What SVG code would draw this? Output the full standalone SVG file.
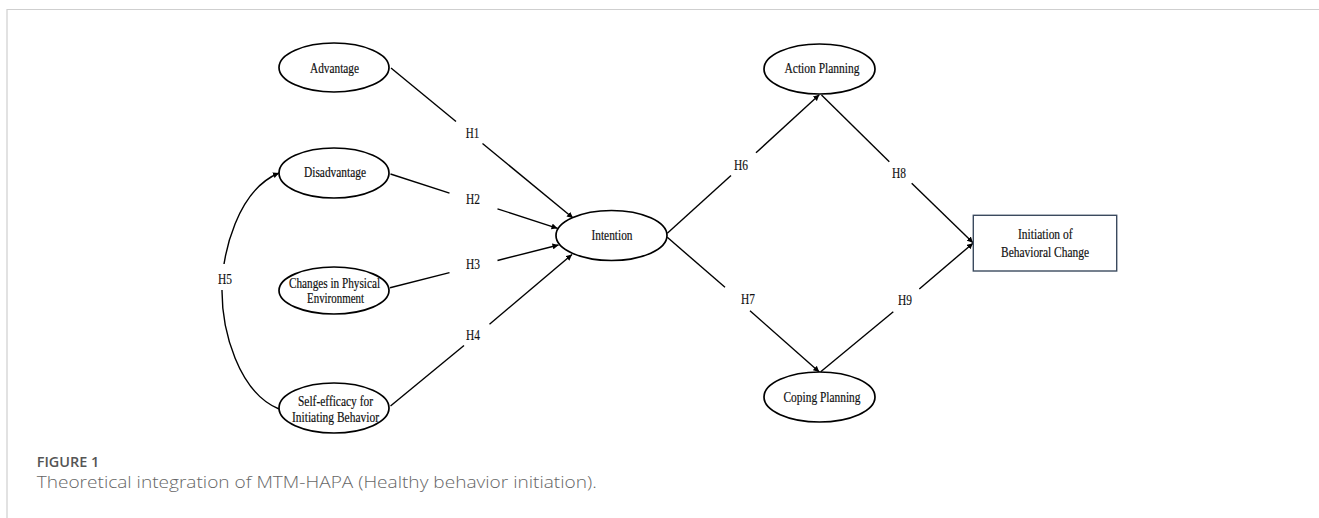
<svg xmlns="http://www.w3.org/2000/svg" width="1319" height="518" viewBox="0 0 1319 518">
<style>
.node ellipse{fill:#fff;stroke:#000;stroke-width:1.7}
.box{fill:#fff;stroke:#3b4a5e;stroke-width:1.4}
.t{font-family:"Liberation Serif","Times New Roman",serif;font-size:15px;fill:#111;stroke:#111;stroke-width:0.2;text-anchor:middle}
.lbl{font-family:"Liberation Serif","Times New Roman",serif;font-size:15px;fill:#111;stroke:#111;stroke-width:0.15;text-anchor:middle}
.c{fill:none;stroke:#000;stroke-width:1.4}
.frame{stroke:#cfcfcf;stroke-width:1.2;fill:none}
.cap1{font-family:"Open Sans","Liberation Sans",sans-serif;font-size:14.5px;font-weight:600;fill:#555}
.cap2{font-family:"Open Sans","Liberation Sans",sans-serif;font-size:16.5px;font-weight:300;fill:#666}
</style>
<defs>
<marker id="ah" viewBox="0 0 6 6" refX="6" refY="3" markerWidth="6" markerHeight="6" markerUnits="userSpaceOnUse" orient="auto">
<path d="M0,0 L6,3 L0,6 z" fill="#000"/>
</marker>
</defs>
<rect width="1319" height="518" fill="#fff"/>
<path class="frame" d="M7,518 V9.5 H1319"/>

<g id="connectors">
<!-- H1 -->
<line class="c" x1="391" y1="68" x2="456" y2="121.5"/>
<line class="c" x1="482.5" y1="143.5" x2="573" y2="218" marker-end="url(#ah)"/>
<!-- H2 -->
<line class="c" x1="390.5" y1="174" x2="449.5" y2="193.2"/>
<line class="c" x1="497.5" y1="208.8" x2="557.5" y2="228.3" marker-end="url(#ah)"/>
<!-- H3 -->
<line class="c" x1="390" y1="287.7" x2="449.5" y2="272.6"/>
<line class="c" x1="497.5" y1="260.5" x2="558.5" y2="245" marker-end="url(#ah)"/>
<!-- H4 -->
<line class="c" x1="390.5" y1="406" x2="464" y2="345.5"/>
<line class="c" x1="489.5" y1="324.2" x2="572" y2="254.5" marker-end="url(#ah)"/>
<!-- H6 -->
<line class="c" x1="667.3" y1="233.3" x2="731" y2="175.5"/>
<line class="c" x1="756" y1="152.8" x2="819.3" y2="94.8" marker-end="url(#ah)"/>
<!-- H7 -->
<line class="c" x1="667.3" y1="237.3" x2="725" y2="287.3"/>
<line class="c" x1="750" y1="310.7" x2="819.3" y2="372" marker-end="url(#ah)"/>
<!-- H8 -->
<line class="c" x1="821.5" y1="95" x2="889.3" y2="161.7"/>
<line class="c" x1="911.7" y1="183.3" x2="973" y2="242.7" marker-end="url(#ah)"/>
<!-- H9 -->
<line class="c" x1="820.7" y1="371.7" x2="893.3" y2="311.7"/>
<line class="c" x1="919.3" y1="289" x2="973" y2="243.2" marker-end="url(#ah)"/>
<!-- H5 -->
<path class="c" d="M279,409 C238,392 222,330 222,291 C222,252 238,190 279,173" marker-start="url(#ah)" marker-end="url(#ah)"/>
<rect x="213" y="264" width="20" height="26" fill="#fff"/>
</g>

<g id="labels">
<text class="lbl" x="472.5" y="138" textLength="13.5" lengthAdjust="spacingAndGlyphs">H1</text>
<text class="lbl" x="473" y="204" textLength="14" lengthAdjust="spacingAndGlyphs">H2</text>
<text class="lbl" x="473" y="268.7" textLength="14" lengthAdjust="spacingAndGlyphs">H3</text>
<text class="lbl" x="473" y="340" textLength="14" lengthAdjust="spacingAndGlyphs">H4</text>
<text class="lbl" x="225" y="284.3" textLength="14" lengthAdjust="spacingAndGlyphs">H5</text>
<text class="lbl" x="741" y="170" textLength="14" lengthAdjust="spacingAndGlyphs">H6</text>
<text class="lbl" x="748" y="304" textLength="14" lengthAdjust="spacingAndGlyphs">H7</text>
<text class="lbl" x="899" y="177.7" textLength="14" lengthAdjust="spacingAndGlyphs">H8</text>
<text class="lbl" x="905" y="305.3" textLength="14" lengthAdjust="spacingAndGlyphs">H9</text>
</g>

<g id="advantage" class="node">
<ellipse cx="334" cy="67.5" rx="55" ry="24.5"/>
<text class="t" x="334.5" y="72.7" textLength="49" lengthAdjust="spacingAndGlyphs">Advantage</text>
</g>
<g id="disadvantage" class="node">
<ellipse cx="334" cy="173" rx="55" ry="25"/>
<text class="t" x="335" y="177" textLength="62" lengthAdjust="spacingAndGlyphs">Disadvantage</text>
</g>
<g id="changes" class="node">
<ellipse cx="334" cy="290.5" rx="55" ry="23.5"/>
<text class="t" x="334.5" y="287.7" textLength="91" lengthAdjust="spacingAndGlyphs">Changes in Physical</text>
<text class="t" x="335.5" y="302.7" textLength="57" lengthAdjust="spacingAndGlyphs">Environment</text>
</g>
<g id="selfefficacy" class="node">
<ellipse cx="334" cy="408" rx="55" ry="25"/>
<text class="t" x="335.5" y="405.7" textLength="75" lengthAdjust="spacingAndGlyphs">Self-efficacy for</text>
<text class="t" x="335.5" y="421.7" textLength="87" lengthAdjust="spacingAndGlyphs">Initiating Behavior</text>
</g>
<g id="intention" class="node">
<ellipse cx="611.5" cy="235.5" rx="55.5" ry="25"/>
<text class="t" x="612" y="240" textLength="41" lengthAdjust="spacingAndGlyphs">Intention</text>
</g>
<g id="actionplanning" class="node">
<ellipse cx="819.5" cy="69" rx="55.5" ry="25"/>
<text class="t" x="822" y="72.7" textLength="75" lengthAdjust="spacingAndGlyphs">Action Planning</text>
</g>
<g id="copingplanning" class="node">
<ellipse cx="819.5" cy="397" rx="55.5" ry="25"/>
<text class="t" x="822" y="401.7" textLength="77" lengthAdjust="spacingAndGlyphs">Coping Planning</text>
</g>
<g id="initiation">
<rect class="box" x="973.3" y="215.3" width="143.4" height="55.7"/>
<text class="t" x="1045.3" y="239.3" textLength="54.5" lengthAdjust="spacingAndGlyphs">Initiation of</text>
<text class="t" x="1045" y="256.7" textLength="88" lengthAdjust="spacingAndGlyphs">Behavioral Change</text>
</g>

<g id="caption">
<text class="cap1" x="36.7" y="466.5" textLength="62.6" lengthAdjust="spacingAndGlyphs">FIGURE 1</text>
<text class="cap2" x="36.7" y="487.5" textLength="560" lengthAdjust="spacingAndGlyphs">Theoretical integration of MTM-HAPA (Healthy behavior initiation).</text>
</g>
</svg>
